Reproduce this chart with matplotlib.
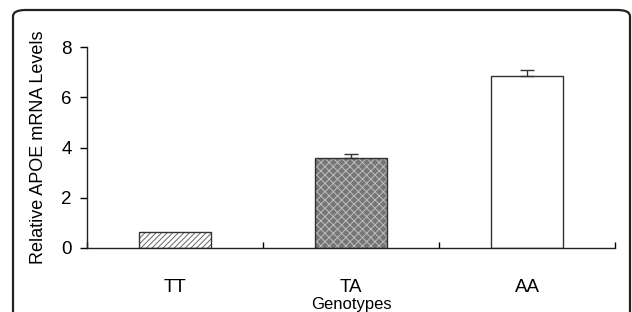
import matplotlib
matplotlib.use('Agg')
import matplotlib.pyplot as plt
from matplotlib.patches import FancyBboxPatch

genotypes = ['TT', 'TA', 'AA']
levels = [0.63, 3.58, 6.85]
errors = [0.0, 0.17, 0.23]

plt.rcParams['font.family'] = ['Liberation Sans', 'DejaVu Sans']
plt.rcParams['hatch.linewidth'] = 0.7

fig = plt.figure(figsize=(6.32, 3.12), dpi=100)

# rounded panel frame, bottom runs off the image
frame = FancyBboxPatch((13/632, -0.2), 617/632, 1 - 10/312 + 0.2,
                       boxstyle='round,pad=0,rounding_size=0.02',
                       transform=fig.transFigure, fill=False,
                       edgecolor='#222222', linewidth=1.6)
fig.patches.append(frame)

ax = fig.add_axes([87/632, 1 - 248/312, (615 - 87)/632, (248 - 47)/312])

x = list(range(len(genotypes)))
# fill patterns first, outlines on top
fills = ax.bar(x, levels, width=0.41, color=['white', '#767676', 'white'],
               linewidth=0)
fills[0].set_hatch('//////')
fills[0].set_edgecolor('#666666')
fills[1].set_hatch('xxxx')
fills[1].set_edgecolor('#bdbdbd')
ax.bar(x, levels, width=0.41, fill=False, edgecolor='#333333', linewidth=1.0)

ax.errorbar(x[1:], levels[1:], yerr=[[0, 0], errors[1:]], fmt='none',
            ecolor='#333333', elinewidth=1.0, capsize=5, capthick=1.0)

ax.set_xlim(-0.5, 2.5)
ax.set_ylim(0, 8)
ax.set_yticks([0, 2, 4, 6, 8])
ax.set_xticks(x)
ax.set_xticklabels(genotypes, fontsize=13.5)
ax.set_xticks([-0.5, 0.5, 1.5, 2.5], minor=True)
ax.tick_params(axis='x', which='major', length=0, pad=22)
ax.tick_params(axis='x', which='minor', direction='in', length=4, width=1)
ax.tick_params(axis='y', direction='out', length=5, width=1, labelsize=13.5, pad=6)

for s in ['top', 'right']:
    ax.spines[s].set_visible(False)
for s in ['left', 'bottom']:
    ax.spines[s].set_linewidth(1.0)
    ax.spines[s].set_color('#222222')

ax.set_ylabel('Relative APOE mRNA Levels', fontsize=13, labelpad=10)
ax.set_xlabel('Genotypes', fontsize=12)
ax.xaxis.set_label_coords(0.5, -0.245)

fig.savefig('out.png', dpi=100)
